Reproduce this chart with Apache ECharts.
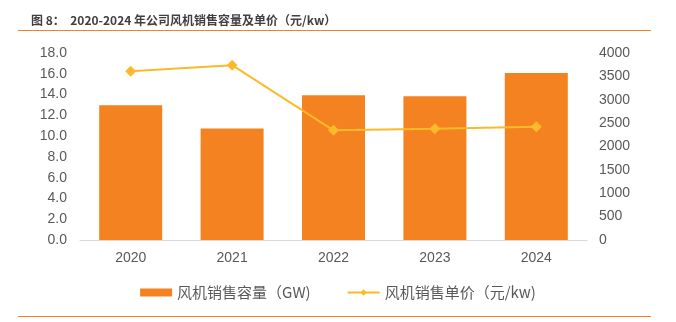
<!DOCTYPE html>
<html><head><meta charset="utf-8">
<script src="https://cdn.jsdelivr.net/npm/echarts@6/dist/echarts.min.js"></script>
<style>html,body{margin:0;padding:0;background:#fff}#c{width:676px;height:322px}</style>
</head><body><div id="c"></div>
<script>
const categories = ['2020','2021','2022','2023','2024'];
const capacity = [12.97, 10.74, 13.94, 13.84, 16.07];
const price = [3610, 3740, 2345, 2380, 2425];
const leftTicks = {min:0, max:18, interval:2};
const rightTicks = {min:0, max:4000, interval:500};
const FONT = '"Liberation Sans", Arial, "Noto Sans CJK SC", sans-serif';
const chart = echarts.init(document.getElementById('c'));
chart.setOption({
  animation:false,
  textStyle:{fontFamily:FONT},
  title:{text:'图 8：  2020-2024 年公司风机销售容量及单价（元/kw）', left:26, top:9,
    textStyle:{fontSize:12, fontWeight:'bold', color:'#404040', fontFamily:'"Noto Sans CJK SC", sans-serif'}},
  graphic:[
    {type:'line', shape:{x1:18,y1:30.5,x2:651,y2:30.5}, style:{stroke:'#F58220', lineWidth:1.2}},
    {type:'line', shape:{x1:18,y1:316.5,x2:651,y2:316.5}, style:{stroke:'#F58220', lineWidth:1.2}}
  ],
  legend:{bottom:17, left:'center', itemWidth:32, itemHeight:8, itemGap:36,
    data:[{name:'风机销售容量（GW)', icon:'rect'}, {name:'风机销售单价（元/kw)'}],
    textStyle:{fontSize:15, color:'#595959', fontFamily:'"Noto Sans CJK SC", "Liberation Sans", sans-serif'}},
  grid:{left:80, right:89, top:53, bottom:82},
  xAxis:{type:'category', data:categories,
    axisLine:{lineStyle:{color:'#D9D9D9'}}, axisTick:{show:false},
    axisLabel:{color:'#595959', fontSize:14, margin:11}},
  yAxis:[
    {type:'value', min:leftTicks.min, max:leftTicks.max, interval:leftTicks.interval,
      splitLine:{show:false}, axisLine:{show:false}, axisTick:{show:false},
      axisLabel:{color:'#595959', fontSize:14, margin:13, formatter:v=>v.toFixed(1)}},
    {type:'value', min:rightTicks.min, max:rightTicks.max, interval:rightTicks.interval,
      splitLine:{show:false}, axisLine:{show:false}, axisTick:{show:false},
      axisLabel:{color:'#595959', fontSize:14, margin:12, formatter:v=>String(v)}}
  ],
  series:[
    {name:'风机销售容量（GW)', type:'bar', data:capacity, barWidth:63, itemStyle:{color:'#F58220'}},
    {name:'风机销售单价（元/kw)', type:'line', yAxisIndex:1, data:price, symbol:'diamond', symbolSize:11,
      lineStyle:{color:'#FBBA2B', width:2}, itemStyle:{color:'#FBBA2B'}}
  ]
});
</script></body></html>
